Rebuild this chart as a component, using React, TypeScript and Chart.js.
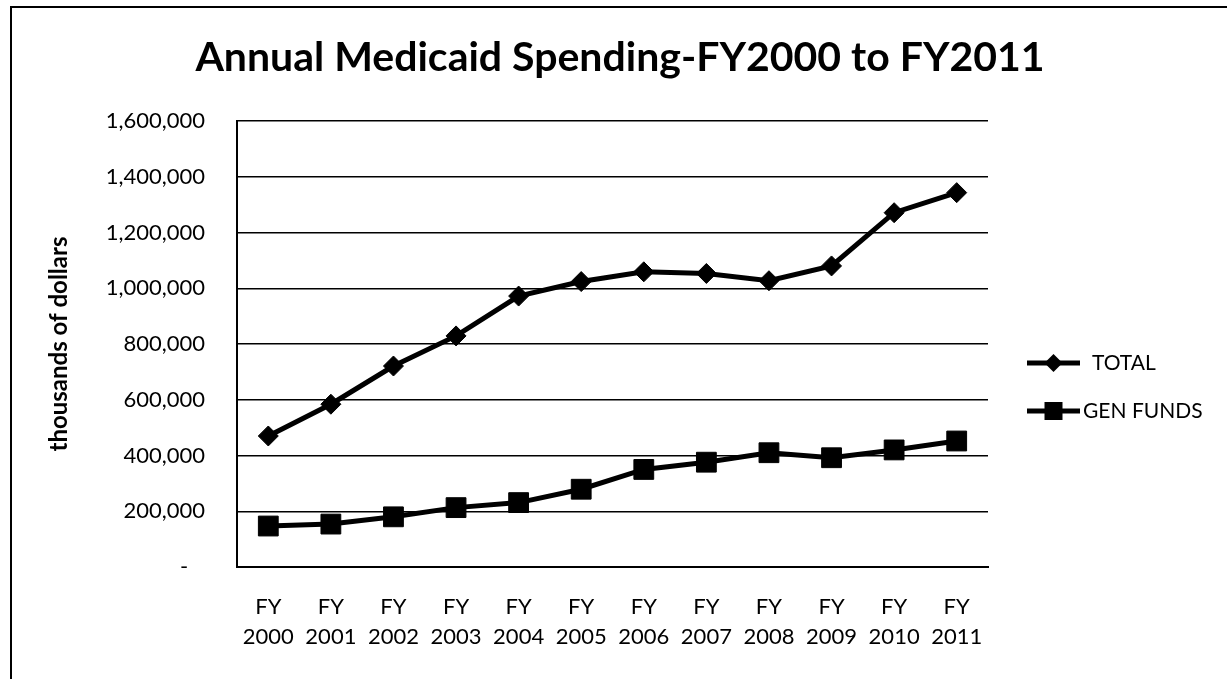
import React, { useEffect, useRef } from "react";
import { Chart, registerables } from "chart.js";

Chart.register(...registerables);

const categories: string[][] = [
  ["FY", "2000"], ["FY", "2001"], ["FY", "2002"], ["FY", "2003"],
  ["FY", "2004"], ["FY", "2005"], ["FY", "2006"], ["FY", "2007"],
  ["FY", "2008"], ["FY", "2009"], ["FY", "2010"], ["FY", "2011"],
];

const totalValues: number[] = [
  470000, 584000, 721000, 829000, 972000, 1024000,
  1059000, 1053000, 1027000, 1080000, 1271000, 1343000,
];

const genFundsValues: number[] = [
  147000, 154000, 180000, 213000, 231000, 279000,
  350000, 376000, 410000, 392000, 420000, 452000,
];

const seriesNames: string[] = ["TOTAL", "GEN FUNDS"];
const titleText = "Annual Medicaid Spending-FY2000 to FY2011";
const yAxisTitle = "thousands of dollars";
const yMin = 0;
const yMax = 1600000;
const yStep = 200000;

const FONT = "Lato, 'Open Sans', sans-serif";

const titlePlugin = {
  id: "centeredTitle",
  afterDraw(chart: any) {
    const { ctx } = chart;
    ctx.save();
    ctx.fillStyle = "#000";
    ctx.font = `bold 41px ${FONT}`;
    ctx.textAlign = "center";
    ctx.textBaseline = "alphabetic";
    ctx.fillText(titleText, 620, 71);
    ctx.restore();
  },
};

const legendPlugin = {
  id: "lineMarkerLegend",
  afterDraw(chart: any) {
    const { ctx, chartArea } = chart;
    const x0 = chartArea.right + 39;
    const lineLen = 53;
    chart.data.datasets.forEach((ds: any, i: number) => {
      const y = chartArea.top + 242 + i * 48;
      ctx.save();
      ctx.strokeStyle = "#000";
      ctx.fillStyle = "#000";
      ctx.lineWidth = 5;
      ctx.beginPath();
      ctx.moveTo(x0, y);
      ctx.lineTo(x0 + lineLen, y);
      ctx.stroke();
      const cx = x0 + lineLen / 2;
      ctx.beginPath();
      if (ds.pointStyle === "rectRot") {
        const r = 9;
        ctx.moveTo(cx - r, y);
        ctx.lineTo(cx, y - r);
        ctx.lineTo(cx + r, y);
        ctx.lineTo(cx, y + r);
        ctx.closePath();
      } else {
        const s = 9;
        ctx.rect(cx - s, y - s, 2 * s, 2 * s);
      }
      ctx.fill();
      ctx.font = `21px ${FONT}`;
      ctx.textBaseline = "middle";
      ctx.textAlign = "left";
      ctx.fillText(ds.label, i === 0 ? x0 + 65 : x0 + 56, y);
      ctx.restore();
    });
  },
};

export default function App() {
  const canvasRef = useRef<HTMLCanvasElement | null>(null);

  useEffect(() => {
    const canvas = canvasRef.current;
    if (!canvas) return;
    const chart = new Chart(canvas, {
      type: "line",
      data: {
        labels: categories,
        datasets: [
          {
            label: seriesNames[0],
            data: totalValues,
            borderColor: "#000",
            backgroundColor: "#000",
            borderWidth: 5,
            pointStyle: "rectRot",
            pointRadius: 10,
            pointBackgroundColor: "#000",
            pointBorderColor: "#000",
            pointBorderWidth: 1,
            tension: 0,
            clip: false as any,
          },
          {
            label: seriesNames[1],
            data: genFundsValues,
            borderColor: "#000",
            backgroundColor: "#000",
            borderWidth: 5,
            pointStyle: "rect",
            pointRadius: 14,
            pointBackgroundColor: "#000",
            pointBorderColor: "#000",
            pointBorderWidth: 1,
            tension: 0,
            clip: false as any,
          },
        ],
      },
      options: {
        responsive: false,
        animation: false,
        events: [],
        layout: { padding: { left: 0, right: 239, top: 121, bottom: 0 } },
        plugins: {
          legend: { display: false },
          tooltip: { enabled: false },
          title: { display: false },
        },
        scales: {
          x: {
            type: "category",
            offset: true,
            grid: { display: false, drawTicks: false },
            border: { display: true, color: "#000", width: 2 },
            ticks: {
              color: "#000",
              font: { family: FONT, size: 22, lineHeight: 1.36 },
              padding: 25,
              maxRotation: 0,
              autoSkip: false,
            },
            afterFit: (s: any) => {
              s.height = 112;
            },
          },
          y: {
            min: yMin,
            max: yMax,
            grid: { color: "#000", lineWidth: 1.5, drawTicks: false },
            border: { display: true, color: "#000", width: 2 },
            ticks: {
              stepSize: yStep,
              color: "#000",
              font: { family: FONT, size: 22 },
              padding: 32,
              callback: (v: any) =>
                Number(v) === 0 ? "-   " : Number(v).toLocaleString("en-US"),
            },
            title: {
              display: true,
              text: yAxisTitle,
              color: "#000",
              font: { family: FONT, size: 24, weight: "bold" },
              padding: { top: 45, bottom: 0 },
            },
            afterFit: (s: any) => {
              s.width = 237;
            },
          },
        },
      },
      plugins: [titlePlugin, legendPlugin],
    });
    return () => chart.destroy();
  }, []);

  return (
    <div
      style={{
        position: "absolute",
        left: 0,
        top: 0,
        width: 1227,
        height: 679,
        overflow: "hidden",
        background: "#fff",
      }}
    >
      <div
        style={{
          position: "absolute",
          left: 10,
          top: 6,
          width: 1300,
          height: 800,
          borderTop: "2px solid #000",
          borderLeft: "2px solid #000",
        }}
      />
      <canvas
        ref={canvasRef}
        width={1227}
        height={679}
        style={{ position: "absolute", left: 0, top: 0, width: 1227, height: 679 }}
      />
    </div>
  );
}
